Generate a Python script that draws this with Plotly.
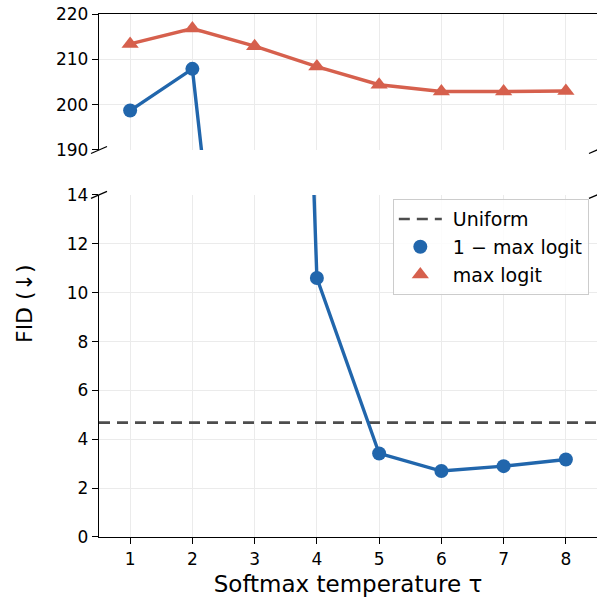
import plotly.graph_objects as go

# ---- data ----
tau = [1, 2, 3, 4, 5, 6, 7, 8]
one_minus_max_logit = [198.7, 207.9, 85.0, 10.6, 3.42, 2.70, 2.90, 3.17]
max_logit = [213.4, 216.8, 212.9, 208.4, 204.4, 202.9, 202.9, 203.0]
uniform_fid = 4.68
x_range = [0.5, 8.5]
top_range = [190, 220]
bottom_range = [0, 14]
top_ticks = [190, 200, 210, 220]
bottom_ticks = [0, 2, 4, 6, 8, 10, 12, 14]

BLUE = "#2166ac"
RED = "#d6604d"
GRAY = "#4d4d4d"
FONT = "DejaVu Sans"

fig = go.Figure()

# Uniform baseline (bottom panel)
fig.add_trace(go.Scatter(
    x=x_range, y=[uniform_fid, uniform_fid], xaxis="x", yaxis="y",
    mode="lines", line=dict(color=GRAY, width=2.6, dash="11px,7px"),
    name=" Uniform", legendrank=1, legendgroup="a", showlegend=True))

for xa, ya in (("x", "y"), ("x2", "y2")):
    fig.add_trace(go.Scatter(
        x=tau, y=one_minus_max_logit, xaxis=xa, yaxis=ya,
        mode="lines+markers", line=dict(color=BLUE, width=3.4),
        marker=dict(color=BLUE, size=14, symbol="circle"),
        showlegend=False, cliponaxis=True))
    fig.add_trace(go.Scatter(
        x=tau, y=max_logit, xaxis=xa, yaxis=ya,
        mode="lines+markers", line=dict(color=RED, width=3.4),
        marker=dict(color=RED, size=15, symbol="triangle-up"),
        showlegend=False, cliponaxis=True))

# legend-only entries (marker handles, as in the reference)
fig.add_trace(go.Scatter(x=[None], y=[None], xaxis="x", yaxis="y", mode="markers",
                         marker=dict(color=BLUE, size=14, symbol="circle"),
                         name=" 1 \u2212 max logit", legendrank=2, legendgroup="b"))
fig.add_trace(go.Scatter(x=[None], y=[None], xaxis="x", yaxis="y", mode="markers",
                         marker=dict(color=RED, size=15, symbol="triangle-up"),
                         name=" max logit", legendrank=3, legendgroup="c"))

axis_common = dict(showgrid=True, gridcolor="#ebebeb", gridwidth=1, zeroline=False,
                   showline=True, linecolor="black", linewidth=1.3,
                   tickfont=dict(family=FONT, size=17, color="black"))

fig.update_layout(
    width=597, height=603,
    margin=dict(l=99, r=0, t=14, b=66),
    paper_bgcolor="white", plot_bgcolor="white",
    font=dict(family=FONT, color="black"),
    xaxis=dict(domain=[0, 1], anchor="y", range=x_range, tickvals=tau,
               ticks="outside", ticklen=6, tickwidth=1.3, tickcolor="black",
               title=dict(text="Softmax temperature \u03c4", font=dict(size=23), standoff=8),
               **axis_common),
    yaxis=dict(domain=[0, 0.654], anchor="x", range=bottom_range, tickvals=bottom_ticks,
               ticks="outside", ticklen=6, tickwidth=1.3, tickcolor="black",
               **axis_common),
    xaxis2=dict(domain=[0, 1], anchor="y2", range=x_range, tickvals=tau, matches="x",
                side="top", ticks="", showticklabels=False, **axis_common),
    yaxis2=dict(domain=[0.740, 1], anchor="x2", range=top_range, tickvals=top_ticks,
                ticks="outside", ticklen=6, tickwidth=1.3, tickcolor="black",
                **axis_common),
    legend=dict(x=0.590, y=0.646, xanchor="left", yanchor="top",
                bgcolor="rgba(255,255,255,0.85)", bordercolor="#cccccc", borderwidth=1,
                font=dict(family=FONT, size=19, color="black"),
                itemwidth=43, traceorder="grouped", tracegroupgap=0),
    showlegend=True,
    annotations=[dict(text="FID (\u2193)", xref="paper", yref="paper",
                      x=-0.151, y=0.447, xanchor="center", yanchor="middle",
                      textangle=-90, showarrow=False,
                      font=dict(family=FONT, size=22, color="black"))],
)

# break marks
dx = 8 / 498
shapes = []
for yref, yv, dy in (("y2 domain", 0, 3.5 / 136), ("y domain", 1, 3.5 / 342)):
    for xv in (0, 1):
        shapes.append(dict(type="line", xref="x domain", yref=yref,
                           x0=xv - dx, x1=xv + dx, y0=yv - dy, y1=yv + dy,
                           line=dict(color="black", width=1.3)))
fig.update_layout(shapes=shapes)

fig.write_html("out.html")
